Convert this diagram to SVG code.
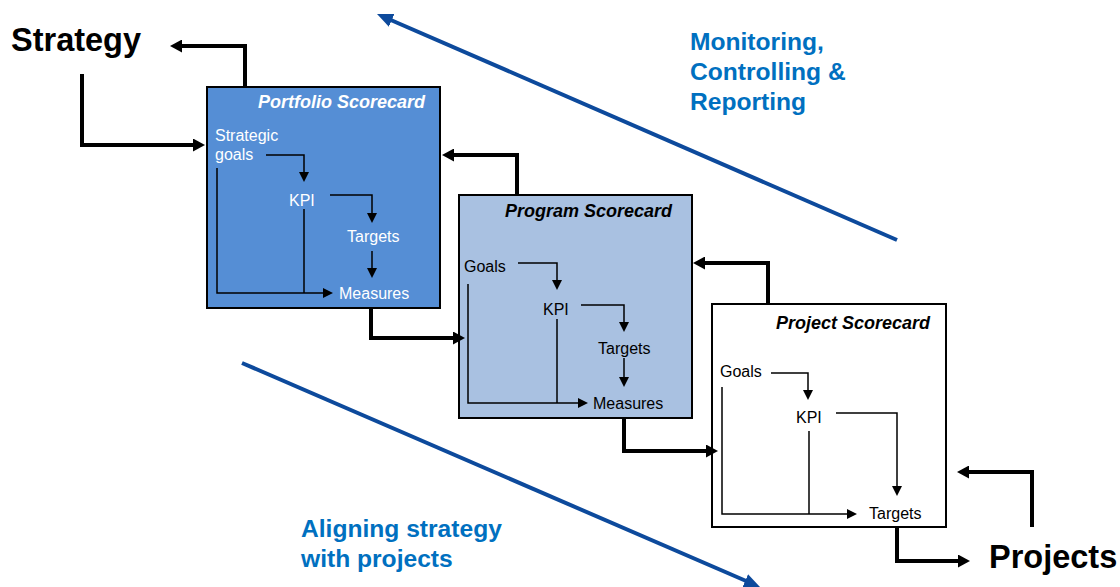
<svg xmlns="http://www.w3.org/2000/svg" width="1120" height="587" viewBox="0 0 1120 587">
<defs>
<style>
.box{stroke:#000;stroke-width:2}
.ttl{font-family:"Liberation Sans",Arial,sans-serif;font-size:18px;font-weight:bold;font-style:italic;text-anchor:end}
.lbl{font-family:"Liberation Sans",Arial,sans-serif;font-size:16px}
.big{font-family:"Liberation Sans",Arial,sans-serif;font-size:32.5px;font-weight:bold;fill:#000}
.blue{font-family:"Liberation Sans",Arial,sans-serif;font-size:24.6px;font-weight:bold;fill:#0070C0}
.thick{fill:none;stroke:#000;stroke-width:4;marker-end:url(#ah)}
.thin{fill:none;stroke:#000;stroke-width:1.5}
.thina{fill:none;stroke:#000;stroke-width:1.5;marker-end:url(#at)}
.bl{fill:none;stroke:#0D4A9C;stroke-width:4;marker-end:url(#ab)}
</style>
<marker id="ah" markerUnits="userSpaceOnUse" markerWidth="12" markerHeight="13" refX="4" refY="6.5" orient="auto"><path d="M0,0 L12,6.5 L0,13 z" fill="#000"/></marker>
<marker id="at" markerUnits="userSpaceOnUse" markerWidth="10" markerHeight="10" refX="6" refY="5" orient="auto"><path d="M0,0 L10,5 L0,10 z" fill="#000"/></marker>
<marker id="ab" markerUnits="userSpaceOnUse" markerWidth="16" markerHeight="14" refX="6" refY="7" orient="auto"><path d="M0,0 L16,7 L0,14 z" fill="#0D4A9C"/></marker>
</defs>
<rect width="1120" height="587" fill="#fff"/>

<g id="strategy"><text class="big" x="11" y="51">Strategy</text></g>
<g id="projects"><text class="big" x="989" y="568">Projects</text></g>
<g id="monitoring">
<text class="blue" x="690" y="50">Monitoring,</text>
<text class="blue" x="690" y="80">Controlling &amp;</text>
<text class="blue" x="690" y="110">Reporting</text>
</g>
<g id="aligning">
<text class="blue" x="301" y="537">Aligning strategy</text>
<text class="blue" x="301" y="567">with projects</text>
</g>

<g id="portfolio">
<rect class="box" x="207" y="87" width="233" height="221" fill="#558ED5"/>
<text class="ttl" x="425" y="108" fill="#fff">Portfolio Scorecard</text>
<g class="lbl" fill="#fff">
<text x="215" y="141">Strategic</text>
<text x="215" y="160">goals</text>
<text x="289" y="206">KPI</text>
<text x="347" y="242">Targets</text>
<text x="339" y="299">Measures</text>
</g>
</g>

<g id="program">
<rect class="box" x="459" y="195" width="233" height="223" fill="#A9C1E1"/>
<text class="ttl" x="672" y="217" fill="#000">Program Scorecard</text>
<g class="lbl" fill="#000">
<text x="464" y="272">Goals</text>
<text x="543" y="315">KPI</text>
<text x="598" y="354">Targets</text>
<text x="593" y="409">Measures</text>
</g>
</g>

<g id="project">
<rect class="box" x="712" y="304" width="234" height="223" fill="#fff"/>
<text class="ttl" x="930" y="329" fill="#000">Project Scorecard</text>
<g class="lbl" fill="#000">
<text x="720" y="377">Goals</text>
<text x="796" y="423">KPI</text>
<text x="869" y="519">Targets</text>
</g>
</g>

<g id="connectors">
<path class="bl" d="M897,240 L386.2,18"/>
<path class="bl" d="M242,363 L750.8,583"/>

<path class="thick" d="M245,87 V46 H178"/>
<path class="thick" d="M82,74 V145 H197"/>
<path class="thick" d="M517,195 V155 H450"/>
<path class="thick" d="M371,308 V338 H457"/>
<path class="thick" d="M768,304 V263 H701"/>
<path class="thick" d="M624,418 V451 H710"/>
<path class="thick" d="M1032,527 V472 H965"/>
<path class="thick" d="M897,527 V561 H962"/>

<path class="thina" d="M266,155 H304 V178"/>
<path class="thina" d="M330,195 H372 V219"/>
<path class="thina" d="M372,251 V274"/>
<path class="thina" d="M217,168 V293 H329"/>
<path class="thin" d="M304,209 V293"/>

<path class="thina" d="M518,263 H557 V286"/>
<path class="thina" d="M581,305 H624 V328"/>
<path class="thina" d="M624,358 V383"/>
<path class="thina" d="M468,284 V403 H584"/>
<path class="thin" d="M557,319 V403"/>

<path class="thina" d="M771,373 H808 V396"/>
<path class="thina" d="M836,413 H897 V492"/>
<path class="thina" d="M722,387 V514 H853"/>
<path class="thin" d="M809,431 V514"/>
</g>
</svg>
